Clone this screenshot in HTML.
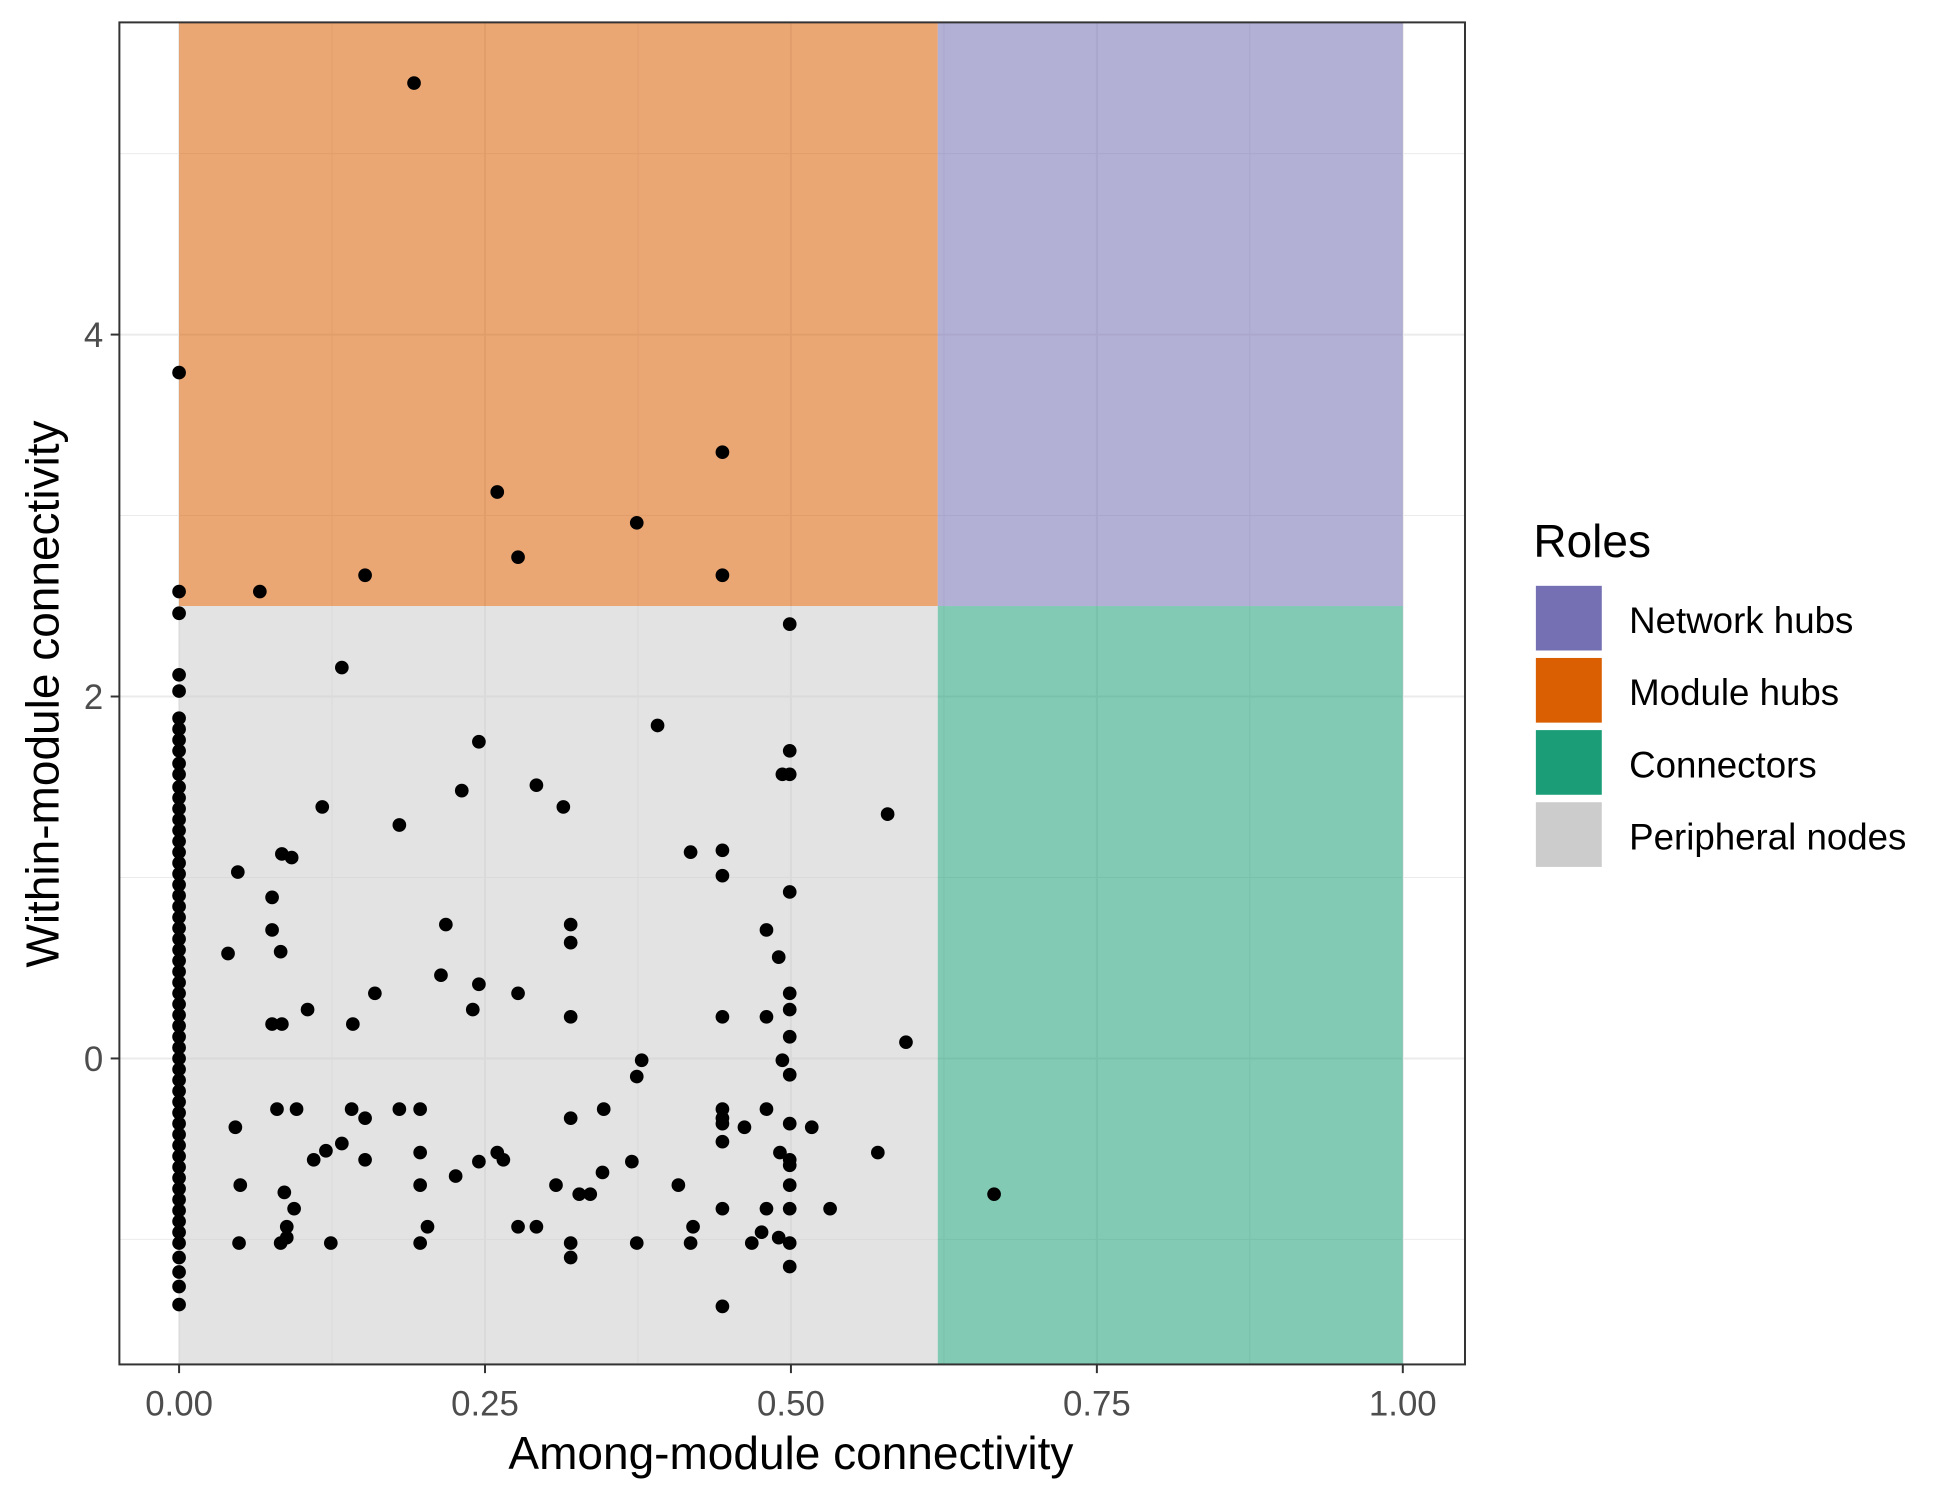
<!DOCTYPE html>
<html><head><meta charset="utf-8"><style>
html,body{margin:0;padding:0;background:#fff;}
svg{display:block;font-family:"Liberation Sans",Arial,sans-serif;}
</style></head><body>
<svg id="chart" width="1950" height="1500" viewBox="0 0 1568 1206" preserveAspectRatio="none" xmlns="http://www.w3.org/2000/svg">
<rect x="0" y="0" width="1568" height="1206" fill="#fff"/>
<g id="grid"></g>
<g id="regions"></g>
<g id="points"></g>
<rect x="96" y="18" width="1082" height="1079" fill="none" stroke="#333" stroke-width="1.6"/>
<g id="axes"></g>
<text x="636" y="1181" font-size="37" text-anchor="middle" fill="#000">Among-module connectivity</text>
<text transform="translate(47,558) rotate(-90)" font-size="37" text-anchor="middle" fill="#000">Within-module connectivity</text>
<g>
<text x="1233" y="448" font-size="37" fill="#000">Roles</text>
<rect x="1235" y="471" width="53" height="52" fill="#7570B3"/>
<text x="1310" y="509" font-size="29.5">Network hubs</text>
<rect x="1235" y="529" width="53" height="52" fill="#D95F02"/>
<text x="1310" y="567" font-size="29.5">Module hubs</text>
<rect x="1235" y="587" width="53" height="52" fill="#1B9E77"/>
<text x="1310" y="625" font-size="29.5">Connectors</text>
<rect x="1235" y="645" width="53" height="52" fill="#CCCCCC"/>
<text x="1310" y="683" font-size="29.5">Peripheral nodes</text>
</g>
</svg>
<script>
const xTicks = [0, 0.25, 0.5, 0.75, 1];
const xTickLabels = ["0.00", "0.25", "0.50", "0.75", "1.00"];
const yTicks = [0, 2, 4];
const yTickLabels = ["0", "2", "4"];
const pcThreshold = 0.62;
const zThreshold = 2.5;
const zeroColumnY = [3.79,2.58,2.46,2.12,2.03,1.88,1.82,1.76,1.70,1.63,1.57,1.50,1.44,1.38,1.32,1.26,1.20,1.14,1.08,1.02,0.96,0.90,0.84,0.78,0.72,0.66,0.60,0.54,0.48,0.42,0.36,0.30,0.24,0.18,0.12,0.06,0,-0.06,-0.12,-0.18,-0.24,-0.30,-0.36,-0.42,-0.48,-0.54,-0.60,-0.66,-0.72,-0.78,-0.84,-0.90,-0.96,-1.02,-1.10,-1.18,-1.26,-1.36];
const otherX = [0.192,0.444,0.26,0.374,0.277,0.152,0.444,0.066,0.499,0.133,0.391,0.245,0.499,0.493,0.499,0.292,0.231,0.314,0.117,0.579,0.18,0.418,0.444,0.084,0.092,0.048,0.444,0.499,0.076,0.218,0.32,0.076,0.48,0.32,0.04,0.083,0.49,0.214,0.245,0.16,0.277,0.499,0.105,0.24,0.499,0.32,0.444,0.48,0.076,0.084,0.142,0.499,0.594,0.378,0.493,0.499,0.374,0.08,0.096,0.141,0.18,0.197,0.347,0.48,0.444,0.444,0.152,0.32,0.444,0.499,0.462,0.046,0.517,0.444,0.133,0.12,0.11,0.197,0.26,0.491,0.571,0.152,0.245,0.265,0.37,0.499,0.499,0.346,0.226,0.197,0.05,0.308,0.408,0.499,0.086,0.327,0.336,0.666,0.094,0.444,0.48,0.499,0.532,0.088,0.203,0.277,0.292,0.42,0.476,0.088,0.49,0.049,0.083,0.124,0.197,0.32,0.374,0.418,0.468,0.499,0.32,0.499,0.444];
const otherY = [5.39,3.35,3.13,2.96,2.77,2.67,2.67,2.58,2.40,2.16,1.84,1.75,1.70,1.57,1.57,1.51,1.48,1.39,1.39,1.35,1.29,1.14,1.15,1.13,1.11,1.03,1.01,0.92,0.89,0.74,0.74,0.71,0.71,0.64,0.58,0.59,0.56,0.46,0.41,0.36,0.36,0.36,0.27,0.27,0.27,0.23,0.23,0.23,0.19,0.19,0.19,0.12,0.09,-0.01,-0.01,-0.09,-0.10,-0.28,-0.28,-0.28,-0.28,-0.28,-0.28,-0.28,-0.28,-0.33,-0.33,-0.33,-0.36,-0.36,-0.38,-0.38,-0.38,-0.46,-0.47,-0.51,-0.56,-0.52,-0.52,-0.52,-0.52,-0.56,-0.57,-0.56,-0.57,-0.56,-0.59,-0.63,-0.65,-0.70,-0.70,-0.70,-0.70,-0.70,-0.74,-0.75,-0.75,-0.75,-0.83,-0.83,-0.83,-0.83,-0.83,-0.93,-0.93,-0.93,-0.93,-0.93,-0.96,-0.99,-0.99,-1.02,-1.02,-1.02,-1.02,-1.02,-1.02,-1.02,-1.02,-1.02,-1.10,-1.15,-1.37];

const NS = "http://www.w3.org/2000/svg";
const PL = 96, PR = 1178, PT = 18, PB = 1097;
function sx(v){ return 144 + v * 984; }
function sy(v){ return 851 - v * 145.5; }
function mk(tag, attrs, parent){
  const e = document.createElementNS(NS, tag);
  for (const k in attrs) e.setAttribute(k, attrs[k]);
  parent.appendChild(e);
  return e;
}
const grid = document.getElementById('grid');
for (let v = -0.125; v <= 1.1; v += 0.125) {
  const x = sx(v); if (x < PL || x > PR) continue;
  const l = mk('line', {x1:x, x2:x, y1:PT, y2:PB, stroke:'#ebebeb', 'stroke-width': (Math.abs(v*4-Math.round(v*4))<1e-6)?1.6:0.8}, grid);
  
  
}
for (let v = -1; v <= 5; v += 1) {
  const y = sy(v);
  const l = mk('line', {x1:PL, x2:PR, y1:y, y2:y, stroke:'#ebebeb', 'stroke-width': (v%2===0)?1.6:0.8}, grid);
  
  
}
const regions = document.getElementById('regions');
const regs = [
  ['region-module-hubs', 0, pcThreshold, PT, sy(zThreshold), '#D95F02'],
  ['region-network-hubs', pcThreshold, 1, PT, sy(zThreshold), '#7570B3'],
  ['region-peripheral-nodes', 0, pcThreshold, sy(zThreshold), PB, '#CCCCCC'],
  ['region-connectors', pcThreshold, 1, sy(zThreshold), PB, '#1B9E77']
];
regs.forEach(r => {
  const e = mk('rect', {x:sx(r[1]), y:r[3], width:sx(r[2])-sx(r[1]), height:r[4]-r[3], fill:r[5], 'fill-opacity':0.55}, regions);
  
  
});
const pts = document.getElementById('points');
zeroColumnY.forEach(v => {
  const c = mk('circle', {cx:sx(0), cy:sy(v), r:5.5, fill:'#000'}, pts);
  
  
});
otherX.forEach((v, i) => {
  const c = mk('circle', {cx:sx(v), cy:sy(otherY[i]), r:5.5, fill:'#000'}, pts);
  
  
});
const axes = document.getElementById('axes');
xTicks.forEach((v, i) => {
  const x = sx(v);
  const t = mk('line', {x1:x, x2:x, y1:PB, y2:PB+7, stroke:'#333', 'stroke-width':1.6}, axes);
  
  
  const l = mk('text', {x:x, y:PB+41, 'font-size':28, 'text-anchor':'middle', fill:'#4d4d4d'}, axes);
  l.textContent = xTickLabels[i];
  
  
});
yTicks.forEach((v, i) => {
  const y = sy(v);
  const t = mk('line', {x1:PL-7, x2:PL, y1:y, y2:y, stroke:'#333', 'stroke-width':1.6}, axes);
  
  
  const l = mk('text', {x:PL-13, y:y+10, 'font-size':28, 'text-anchor':'end', fill:'#4d4d4d'}, axes);
  l.textContent = yTickLabels[i];
  
  
});
</script>
</body></html>
